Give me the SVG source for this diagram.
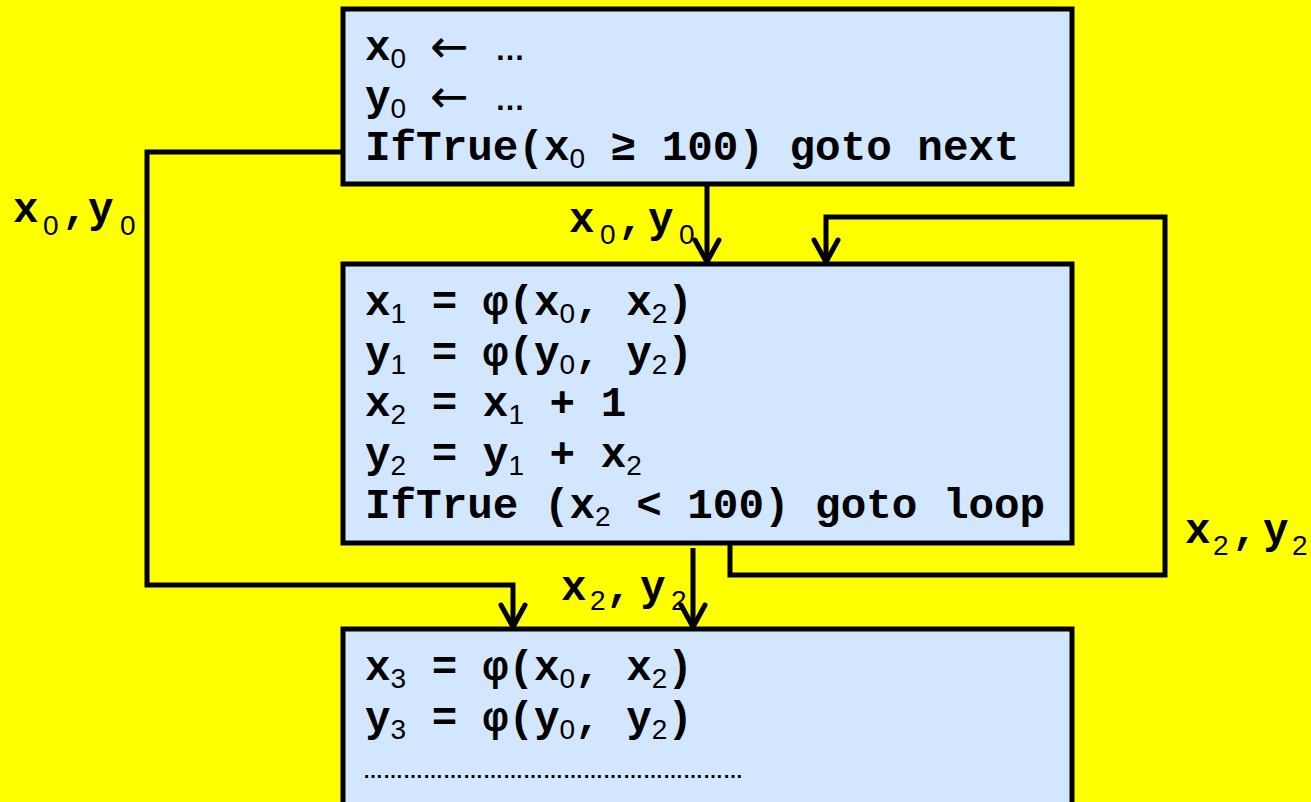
<svg xmlns="http://www.w3.org/2000/svg" width="1311" height="802" viewBox="0 0 1311 802">
<style>
.box { fill: #D2E6FE; stroke: #000; stroke-width: 5; }
.t { font-family: "Liberation Mono", "Courier New", monospace; font-weight: bold; font-size: 42.6px; fill: #000; }
.s { font-family: "Liberation Sans", Arial, sans-serif; font-weight: normal; font-size: 28px; }
.ar { font-family: "DejaVu Sans", sans-serif; font-weight: normal; font-size: 46px; }
.el { font-family: "Liberation Sans", Arial, sans-serif; font-weight: bold; font-size: 30px; }
.dots { font-family: "Liberation Sans", Arial, sans-serif; font-weight: bold; font-size: 20px; fill: #000; }
.c { fill: none; stroke: #000; stroke-width: 5; }
</style>
<defs>
<marker id="v" markerUnits="userSpaceOnUse" viewBox="-26 -16 30 32" refX="0" refY="0" markerWidth="30" markerHeight="32" orient="auto" overflow="visible">
<path d="M -22 -12 L 0 0 L -22 12" fill="none" stroke="#000" stroke-width="5" stroke-linecap="round" stroke-linejoin="miter"/>
</marker>
</defs>
<rect x="0" y="0" width="1311" height="802" fill="#FFFF00"/>

<g id="connectors">
<path class="c" d="M 707 184 L 707 262" marker-end="url(#v)"/>
<path class="c" d="M 730 540 L 730 575 L 1165 575 L 1165 217 L 826 217 L 826 262" marker-end="url(#v)"/>
<path class="c" d="M 343 152 L 147 152 L 147 585 L 513 585 L 513 627" marker-end="url(#v)"/>
<path class="c" d="M 693 548 L 693 627" marker-end="url(#v)"/>
<text class="t"><tspan x="13" y="222">x</tspan><tspan class="s" x="43" y="235">0</tspan><tspan x="62" y="222">,</tspan><tspan x="88" y="222">y</tspan><tspan class="s" x="120" y="235">0</tspan></text>
<text class="t"><tspan x="569" y="232">x</tspan><tspan class="s" x="600" y="244">0</tspan><tspan x="618" y="232">,</tspan><tspan x="648" y="232">y</tspan><tspan class="s" x="679" y="244">0</tspan></text>
<text class="t"><tspan x="561" y="600">x</tspan><tspan class="s" x="590" y="610">2</tspan><tspan x="606" y="600">,</tspan><tspan x="640" y="600">y</tspan><tspan class="s" x="671" y="610">2</tspan></text>
<text class="t"><tspan x="1185" y="543">x</tspan><tspan class="s" x="1213" y="555">2</tspan><tspan x="1232" y="543">,</tspan><tspan x="1263" y="543">y</tspan><tspan class="s" x="1292" y="555">2</tspan></text>
</g>

<g id="node1">
<rect class="box" x="343" y="9" width="729" height="175"/>
<text class="t" x="365" y="60">x<tspan class="s" dy="8">0</tspan><tspan class="ar" x="430" y="62">←</tspan><tspan class="el" x="495" y="60">…</tspan></text>
<text class="t" x="365" y="110">y<tspan class="s" dy="8">0</tspan><tspan class="ar" x="430" y="112">←</tspan><tspan class="el" x="495" y="110">…</tspan></text>
<text class="t" x="365" y="160">IfTrue(x<tspan class="s" dy="8">0</tspan><tspan dy="-8"> ≥ 100) goto next</tspan></text>
</g>

<g id="node2">
<rect class="box" x="343" y="264" width="729" height="279"/>
<text class="t" x="365" y="315">x<tspan class="s" dy="8">1</tspan><tspan dy="-8"> = φ(x</tspan><tspan class="s" dy="8">0</tspan><tspan dy="-8">, x</tspan><tspan class="s" dy="8">2</tspan><tspan dy="-8">)</tspan></text>
<text class="t" x="365" y="366">y<tspan class="s" dy="8">1</tspan><tspan dy="-8"> = φ(y</tspan><tspan class="s" dy="8">0</tspan><tspan dy="-8">, y</tspan><tspan class="s" dy="8">2</tspan><tspan dy="-8">)</tspan></text>
<text class="t" x="365" y="416">x<tspan class="s" dy="8">2</tspan><tspan dy="-8"> = x</tspan><tspan class="s" dy="8">1</tspan><tspan dy="-8"> + 1</tspan></text>
<text class="t" x="365" y="467">y<tspan class="s" dy="8">2</tspan><tspan dy="-8"> = y</tspan><tspan class="s" dy="8">1</tspan><tspan dy="-8"> + x</tspan><tspan class="s" dy="8">2</tspan></text>
<text class="t" x="365" y="518">IfTrue (x<tspan class="s" dy="8">2</tspan><tspan dy="-8"> &lt; 100) goto loop</tspan></text>
</g>

<g id="node3">
<rect class="box" x="343" y="629" width="729" height="200"/>
<text class="t" x="365" y="680">x<tspan class="s" dy="8">3</tspan><tspan dy="-8"> = φ(x</tspan><tspan class="s" dy="8">0</tspan><tspan dy="-8">, x</tspan><tspan class="s" dy="8">2</tspan><tspan dy="-8">)</tspan></text>
<text class="t" x="365" y="731">y<tspan class="s" dy="8">3</tspan><tspan dy="-8"> = φ(y</tspan><tspan class="s" dy="8">0</tspan><tspan dy="-8">, y</tspan><tspan class="s" dy="8">2</tspan><tspan dy="-8">)</tspan></text>
<text class="dots" x="363" y="778">…………………………………………………</text>
</g>
</svg>
